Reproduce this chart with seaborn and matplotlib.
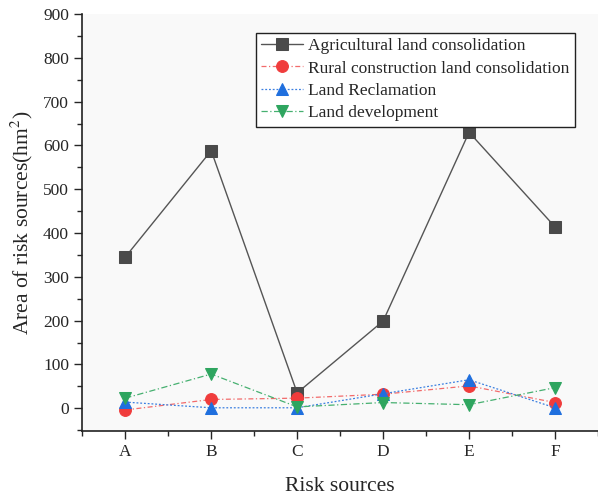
import matplotlib
matplotlib.use("Agg")
import matplotlib.pyplot as plt
from matplotlib.ticker import MultipleLocator
import seaborn as sns
import pandas as pd

categories = ["A", "B", "C", "D", "E", "F"]
agricultural = [345, 588, 35, 199, 630, 414]
rural = [-4, 20, 23, 32, 51, 13]
reclamation = [14, 1, 1, 33, 65, 1]
development = [23, 78, 3, 13, 8, 47]
series_names = ["Agricultural land consolidation",
                "Rural construction land consolidation",
                "Land Reclamation",
                "Land development"]
yticks = [0, 100, 200, 300, 400, 500, 600, 700, 800, 900]

sns.set_style("ticks")
plt.rcParams["font.family"] = ["Liberation Serif", "DejaVu Serif"]
plt.rcParams["mathtext.fontset"] = "stix"

fig = plt.figure(figsize=(5.98, 4.97), dpi=100)
ax = fig.add_axes([0.1376, 0.1328, 0.8624, 0.839])
ax.set_facecolor("#f9f9f9")

x = list(range(len(categories)))
styles = [
    dict(color="#555555", mfc="#4a4a4a", ls="-", marker="s", lw=1.0, ms=8),
    dict(color="#f26b6b", mfc="#f03c3c", ls=(0, (4, 2, 1, 2)), marker="o", lw=0.9, ms=8.5),
    dict(color="#3b7fe0", mfc="#1f6fde", ls=(0, (1.5, 1.5)), marker="^", lw=0.9, ms=8.5),
    dict(color="#46b070", mfc="#2ea55f", ls=(0, (5, 2, 1, 2)), marker="v", lw=0.9, ms=8.5),
]
data = [agricultural, rural, reclamation, development]
for name, vals, st in zip(series_names, data, styles):
    df = pd.DataFrame({"x": x, "y": vals})
    sns.lineplot(data=df, x="x", y="y", ax=ax, color=st["color"], linestyle=st["ls"],
                 linewidth=st["lw"], marker=st["marker"], markersize=st["ms"],
                 markerfacecolor=st["mfc"], markeredgecolor=st["mfc"],
                 label=name)

ax.set_xlim(-0.5, 5.5)
ax.set_ylim(-52, 900)
ax.set_xticks(x)
ax.set_xticklabels(categories)
ax.xaxis.set_minor_locator(MultipleLocator(0.5))
ax.set_yticks(yticks)
ax.yaxis.set_minor_locator(MultipleLocator(50))
ax.tick_params(axis="both", which="major", direction="out", length=6, width=1, labelsize=12.5)
ax.tick_params(axis="both", which="minor", direction="out", length=3.5, width=1)
for s in ["top", "right"]:
    ax.spines[s].set_visible(False)
for s in ["left", "bottom"]:
    ax.spines[s].set_linewidth(1.2)
    ax.spines[s].set_color("#222222")

ax.set_xlabel("Risk sources", fontsize=15.5, labelpad=12)
ax.set_ylabel("Area of risk sources(hm$^2$)", fontsize=15.5, labelpad=6)

leg = ax.legend(loc="upper right", bbox_to_anchor=(0.955, 0.955), borderaxespad=0,
                fontsize=12.5, frameon=True, fancybox=False, handlelength=2.4,
                handletextpad=0.3, labelspacing=0.36, borderpad=0.3)
leg.get_frame().set_edgecolor("#222222")
leg.get_frame().set_linewidth(1.0)
leg.get_frame().set_facecolor("white")
leg.get_frame().set_alpha(1)

fig.savefig("out.png", dpi=100)
